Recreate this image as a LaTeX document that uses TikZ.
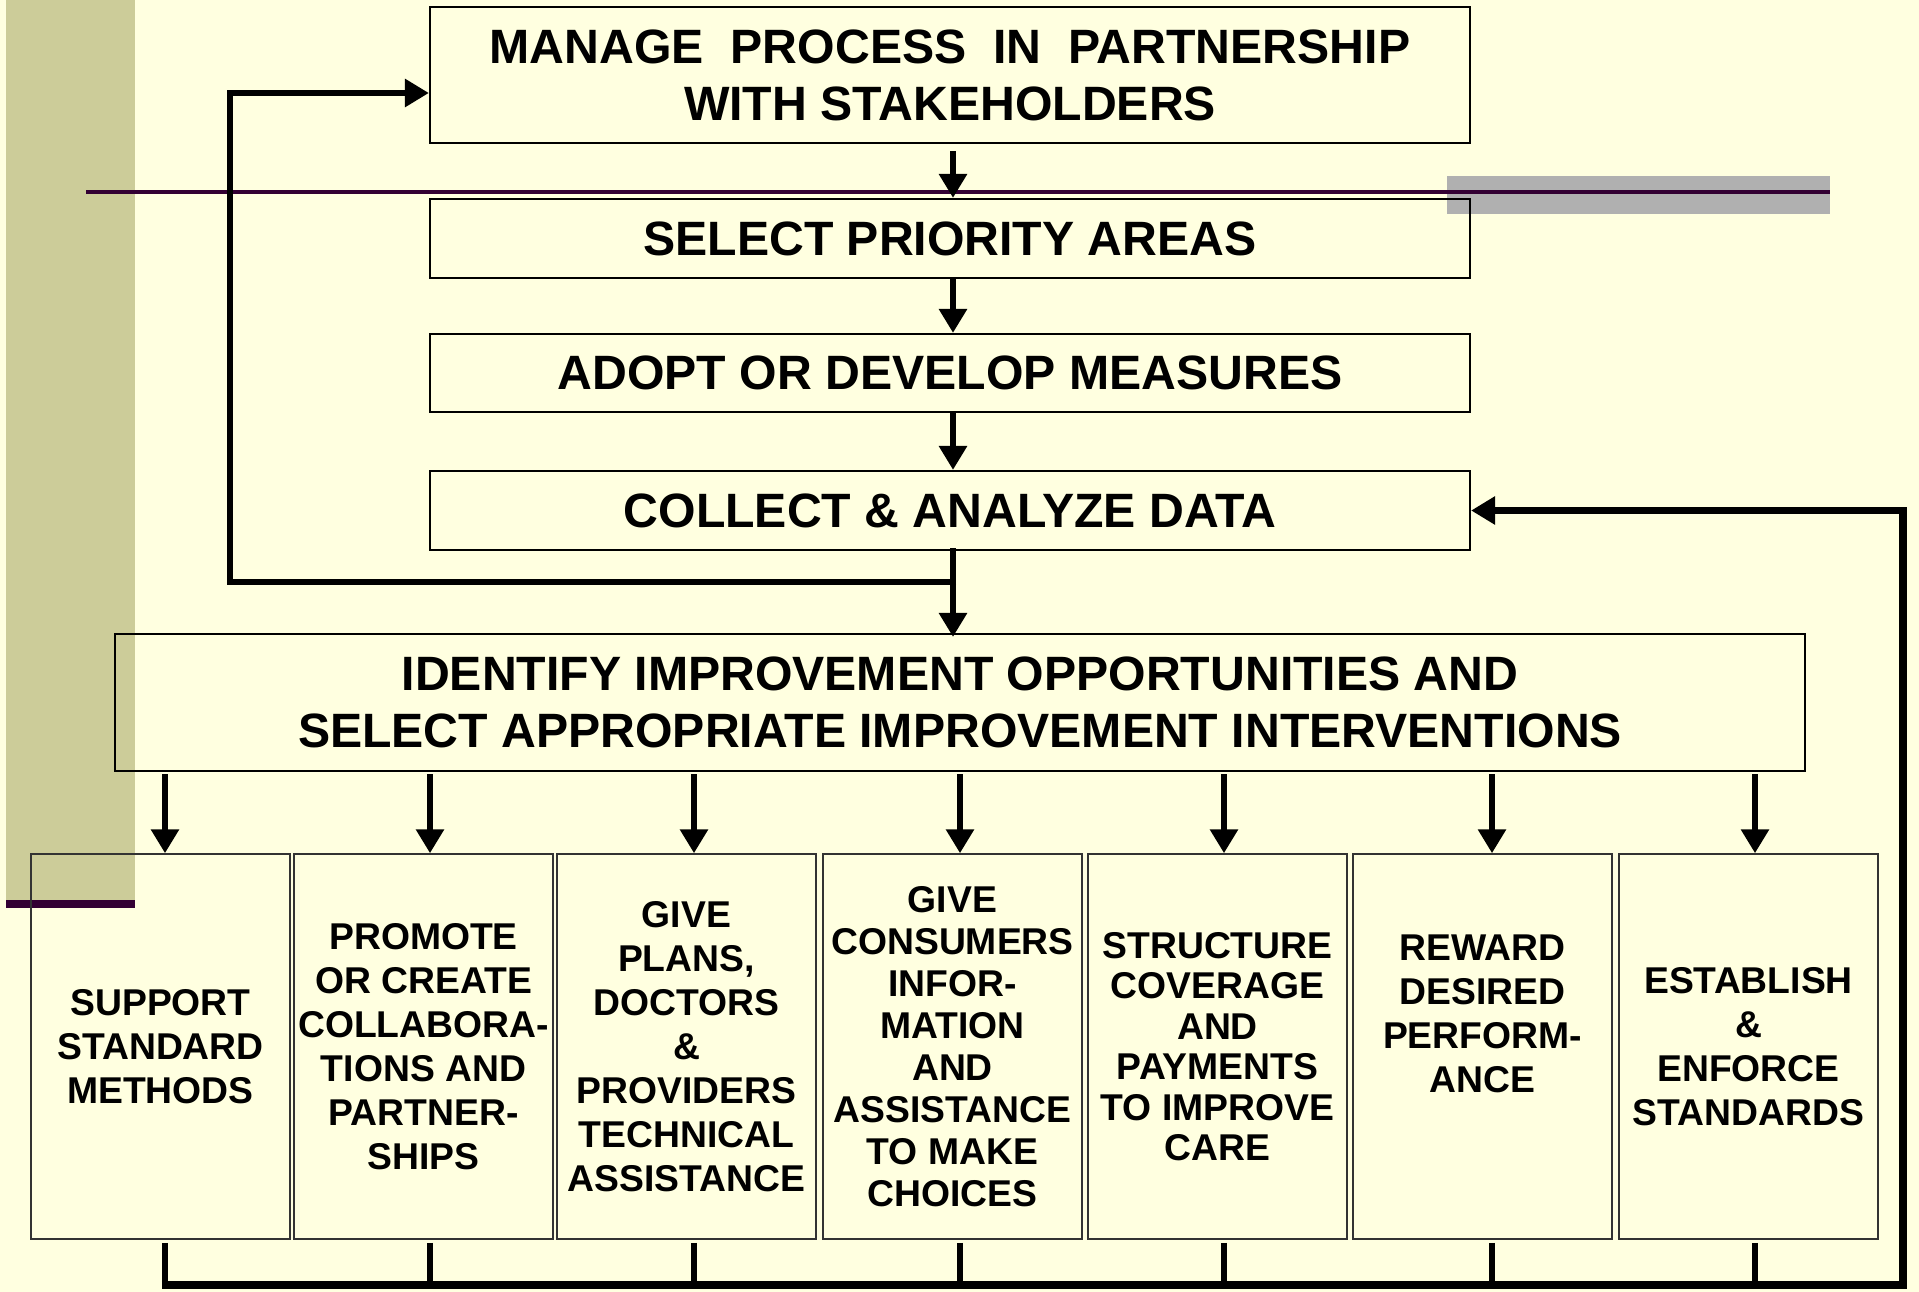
\documentclass[tikz,border=0pt]{standalone}
\usepackage{fontspec}
\setmainfont{Liberation Sans}
\usetikzlibrary{arrows.meta}
\definecolor{paper}{HTML}{FFFFE0}
\definecolor{sidebar}{HTML}{CCCC99}
\definecolor{rulepurple}{HTML}{330033}
\definecolor{rulegray}{HTML}{B0B0B0}

\begin{document}
\begin{tikzpicture}[x=1pt,y=-1pt,
  flowbox/.style={draw=black, line width=2.2pt, inner sep=0pt, align=center,
    font=\fontsize{48.2}{57}\selectfont\bfseries},
  actbox/.style={draw=black!80, line width=1.5pt, inner sep=0pt,
    minimum width=259pt, minimum height=385pt, align=center,
    font=\fontsize{37.3}{44}\selectfont\bfseries},
  acttext/.style={inner sep=0pt, align=center,
    font=\fontsize{37.3}{44}\selectfont\bfseries},
  conn/.style={line width=6.5pt, -{Triangle[length=24pt,width=27pt]}},
  stub/.style={line width=6.5pt},
  loopline/.style={line width=7.5pt, -{Triangle[length=24pt,width=27pt]}},
]
% page, side bar and title rules
\fill[paper] (0,0) rectangle (1919,1292);
\useasboundingbox (0,0) rectangle (1919,1292);
\fill[sidebar] (6,0) rectangle (135,900);
\fill[rulepurple] (6,900) rectangle (135,908);
\fill[rulegray] (1447,176) rectangle (1830,214);
\draw[rulepurple, line width=4pt] (86,192) -- (1830,192);

% main process chain
\node[flowbox, minimum width=1040pt, minimum height=136pt] (m) at (950,75)
  {MANAGE\ \ PROCESS\ \ IN\ \ PARTNERSHIP\\WITH STAKEHOLDERS};
\node[flowbox, minimum width=1040pt, minimum height=79pt] (s) at (950,238.5)
  {SELECT PRIORITY AREAS};
\node[flowbox, minimum width=1040pt, minimum height=78pt] (a) at (950,373)
  {ADOPT OR DEVELOP MEASURES};
\node[flowbox, minimum width=1040pt, minimum height=79pt] (c) at (950,510.5)
  {COLLECT \& ANALYZE DATA};
\node[flowbox, minimum width=1690pt, minimum height=137pt] (id) at (960,702.5)
  {IDENTIFY IMPROVEMENT OPPORTUNITIES AND\\SELECT APPROPRIATE IMPROVEMENT INTERVENTIONS};

% intervention boxes
\node[actbox] (b1) at (160.5,1046.5) {SUPPORT\\STANDARD\\METHODS};
\node[actbox] (b2) at (423.5,1046.5) {PROMOTE\\OR CREATE\\COLLABORA-\\TIONS AND\\PARTNER-\\SHIPS};
\node[actbox] (b3) at (686.5,1046.5) {GIVE\\PLANS,\\DOCTORS\\\&\\PROVIDERS\\TECHNICAL\\ASSISTANCE};
\node[actbox, font=\fontsize{37.3}{42}\selectfont\bfseries] (b4) at (952.5,1046.5)
  {GIVE\\CONSUMERS\\INFOR-\\MATION\\AND\\ASSISTANCE\\TO MAKE\\CHOICES};
\node[actbox, font=\fontsize{37.3}{40.5}\selectfont\bfseries] (b5) at (1217.5,1046.5)
  {STRUCTURE\\COVERAGE\\AND\\PAYMENTS\\TO IMPROVE\\CARE};
\node[actbox] (b6) at (1482.5,1046.5) {};
\node[acttext] (b6t) at ([yshift=33pt]b6.center) {REWARD\\DESIRED\\PERFORM-\\ANCE};
\node[actbox] (b7) at (1748.5,1046.5) {ESTABLISH\\\&\\ENFORCE\\STANDARDS};

% connector positions
\coordinate (spine) at (953,0);
\coordinate (k1) at (165,0);
\coordinate (k2) at (430,0);
\coordinate (k3) at (694,0);
\coordinate (k4) at (960,0);
\coordinate (k5) at (1224,0);
\coordinate (k6) at (1492,0);
\coordinate (k7) at (1755,0);
\coordinate (loopR) at (956,582);
\coordinate (loopL) at (230,582);
\coordinate (bus) at (0,1285);
\coordinate (busR) at (1903,1285);

% chain arrows
\draw[conn] ([yshift=-7pt]m.south -| spine) -- (s.north -| spine);
\draw[conn] (s.south -| spine) -- (a.north -| spine);
\draw[conn] (a.south -| spine) -- (c.north -| spine);
\draw[conn] ([yshift=3pt]c.south -| spine) -- ([yshift=-4pt]id.north -| spine);

% feedback to the partnership box
\draw[loopline, line width=6.5pt] (loopR) -- (loopL) |- ([yshift=-18pt]m.west);

% arrows down to the interventions
\foreach \i in {1,...,7}{
  \draw[conn] ([yshift=-2pt]id.south -| k\i) -- (b\i.north -| k\i);
  \draw[stub] ([yshift=-3pt]b\i.south -| k\i) -- (k\i |- bus);
}

% feedback from the interventions to data collection
\draw[loopline] ([xshift=-3.25pt]k1 |- bus) -- (busR) |- (c.east);
\end{tikzpicture}
\end{document}
